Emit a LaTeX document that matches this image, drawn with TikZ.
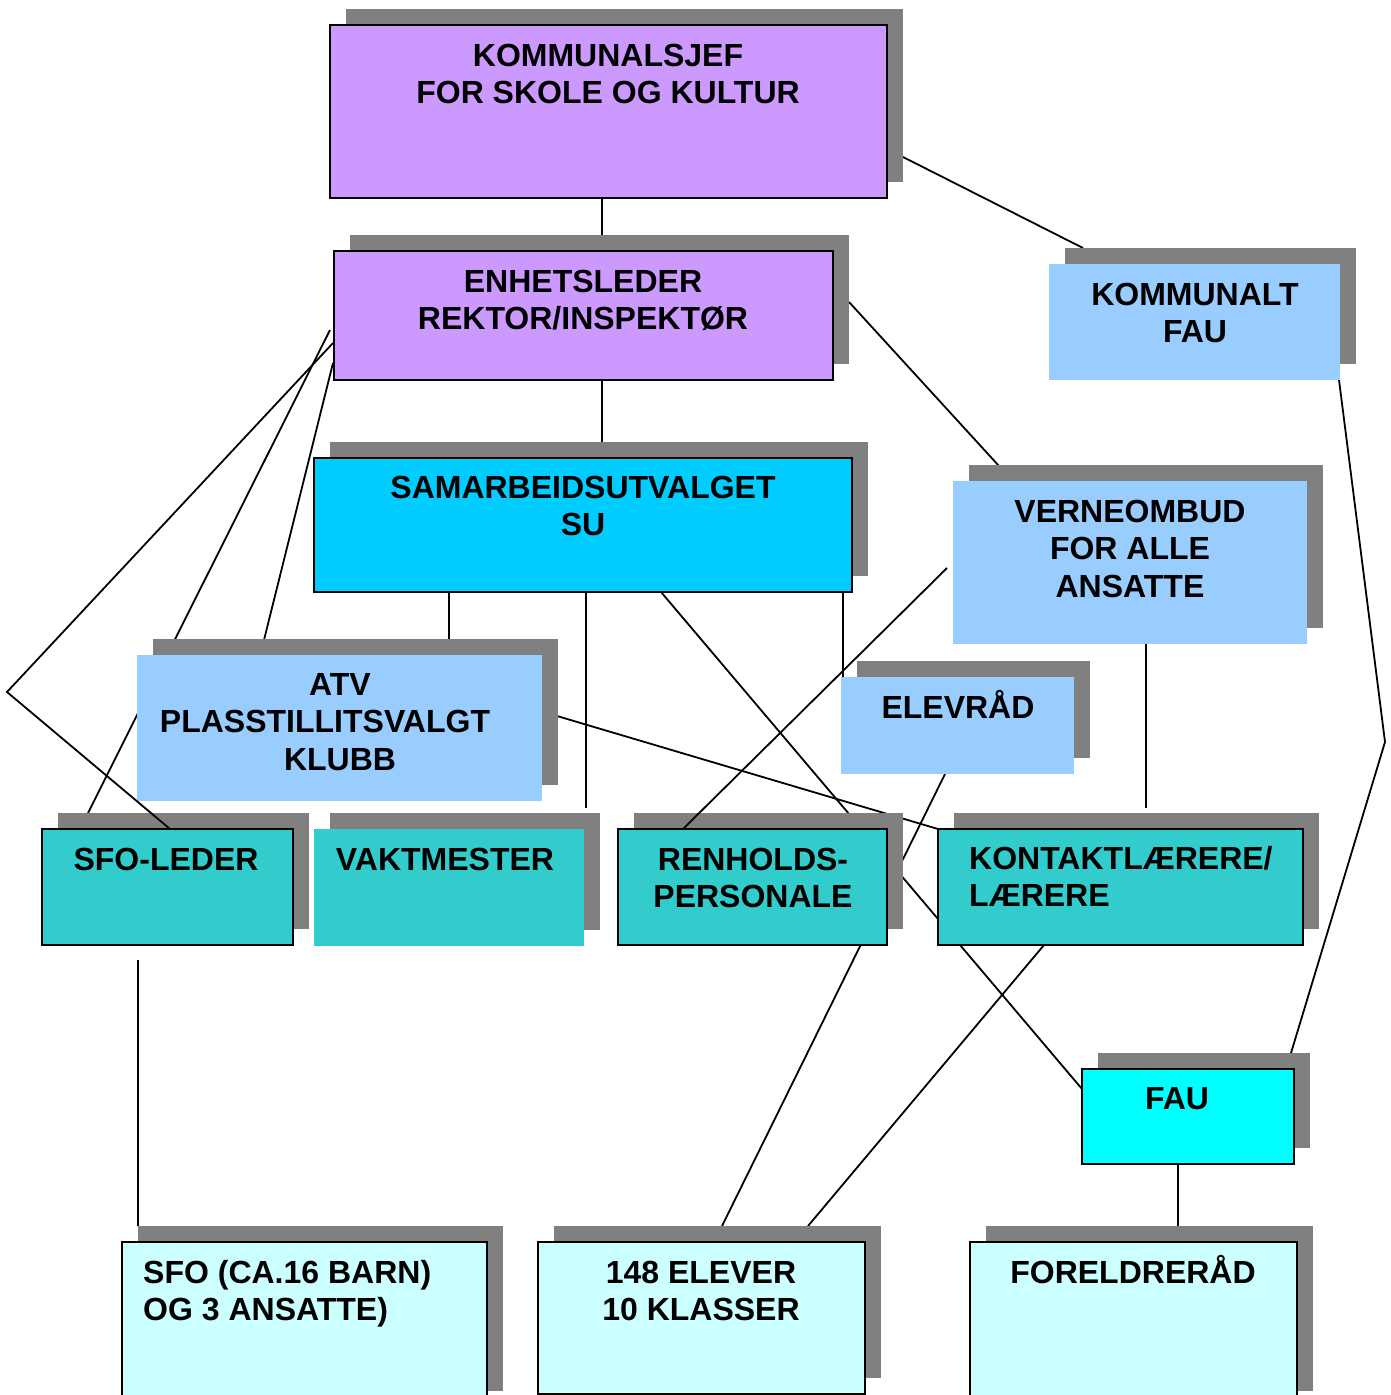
\documentclass[tikz,border=0pt]{standalone}
\usepackage{fontspec}
\setmainfont{Liberation Sans}
\usetikzlibrary{calc,shadows}
\pgfdeclarelayer{background}
\pgfsetlayers{background,main}
\definecolor{lilac}{HTML}{CC99FF}
\definecolor{sublue}{HTML}{00CCFF}
\definecolor{paleblue}{HTML}{99CCFF}
\definecolor{tealbox}{HTML}{33CCCC}
\definecolor{aqua}{HTML}{00FFFF}
\definecolor{icecyan}{HTML}{CCFFFF}
\definecolor{shadowgray}{HTML}{808080}
\newcommand{\boxtext}[2][c]{\begin{tabular}[t]{@{}#1@{}}#2\end{tabular}}
\begin{document}
\begin{tikzpicture}[x=1pt,y=-1pt,
  orgbox/.style={rectangle, anchor=north west, inner sep=0pt, outer sep=0pt,
    drop shadow={shadow xshift=16pt, shadow yshift=16pt, opacity=1, fill=shadowgray}},
  framed/.style={orgbox, draw=black, line width=1.8pt},
  plain/.style={orgbox, draw=none},
  boxlabel/.style={anchor=base, inner sep=0pt, font=\fontsize{32}{37.5}\selectfont\bfseries},
  conn/.style={draw=black, line width=1.8pt}
]
\useasboundingbox (0,0) rectangle (1390,1395);

% boxes
\node[framed, fill=lilac, minimum width=557pt, minimum height=173pt] (komsjef) at (330,25) {};
\node[framed, fill=lilac, minimum width=499pt, minimum height=129pt] (enhet) at (334,251) {};
\node[framed, fill=sublue, minimum width=538pt, minimum height=134pt] (su) at (314,458) {};
\node[plain, fill=paleblue, minimum width=291pt, minimum height=116pt] (kfau) at (1049,264) {};
\node[plain, fill=paleblue, minimum width=354pt, minimum height=163pt] (verne) at (953,481) {};
\node[plain, fill=paleblue, minimum width=405pt, minimum height=146pt] (atv) at (137,655) {};
\node[plain, fill=paleblue, minimum width=233pt, minimum height=97pt] (elev) at (841,677) {};
\node[framed, fill=tealbox, minimum width=251pt, minimum height=116pt] (sfol) at (42,829) {};
\node[plain, fill=tealbox, minimum width=270pt, minimum height=117pt] (vakt) at (314,829) {};
\node[framed, fill=tealbox, minimum width=269pt, minimum height=116pt] (renh) at (618,829) {};
\node[framed, fill=tealbox, minimum width=365pt, minimum height=116pt] (kont) at (938,829) {};
\node[framed, fill=aqua, minimum width=212pt, minimum height=95pt] (fau) at (1082,1069) {};
\node[framed, fill=icecyan, minimum width=365pt, minimum height=165pt] (sfo) at (122,1242) {};
\node[framed, fill=icecyan, minimum width=327pt, minimum height=152pt] (elever) at (538,1242) {};
\node[framed, fill=icecyan, minimum width=327pt, minimum height=165pt] (foreld) at (970,1242) {};

% texts
\node[boxlabel] (t-komsjef) at (608,66) {\boxtext{KOMMUNALSJEF\\FOR SKOLE OG KULTUR}};
\node[boxlabel] (t-enhet) at (583,292) {\boxtext{ENHETSLEDER\\REKTOR/INSPEKTØR}};
\node[boxlabel] (t-su) at (583,498) {\boxtext{SAMARBEIDSUTVALGET\\SU}};
\node[boxlabel] (t-kfau) at (1195,305) {\boxtext{KOMMUNALT\\FAU}};
\node[boxlabel] (t-verne) at (1130,522) {\boxtext{VERNEOMBUD\\FOR ALLE\\ANSATTE}};
\node[boxlabel] (t-atv) at (340,695) {\boxtext{ATV\\PLASSTILLITSVALGT\kern30pt\\KLUBB}};
\node[boxlabel] (t-elev) at (958,718) {ELEVRÅD};
\node[boxlabel] (t-sfol) at (166,870) {SFO-LEDER};
\node[boxlabel] (t-vakt) at (445,870) {VAKTMESTER};
\node[boxlabel] (t-renh) at (753,870) {\boxtext{RENHOLDS-\\PERSONALE}};
\node[boxlabel, anchor=base west] (t-kont) at (969,869) {\boxtext[l]{KONTAKTLÆRERE/\\LÆRERE}};
\node[boxlabel] (t-fau) at (1177,1109) {FAU};
\node[boxlabel, anchor=base west] (t-sfo) at (143,1283) {\boxtext[l]{SFO (CA.16 BARN)\\OG 3 ANSATTE)}};
\node[boxlabel] (t-elever) at (701,1283) {\boxtext{148 ELEVER\\10 KLASSER}};
\node[boxlabel] (t-foreld) at (1133,1283) {FORELDRERÅD};

\coordinate (bendL) at (7,692);
\coordinate (bendR) at (1385,742);

% connectors drawn over the shadows
\draw[conn] ($(enhet.north west)+(-1,92)$) -- (bendL) -- ($(sfol.north west)+(128,0)$);
\draw[conn] ($(verne.north west)+(-6,87)$) -- ($(renh.north west)+(65,0)$);

% connectors behind the boxes
\begin{pgfonlayer}{background}
\draw[conn] ($(komsjef.south west)+(272,0)$) -- ($(enhet.north west)+(268,0)$);
\draw[conn] ($(komsjef.north east)+(16,132)$) -- ($(kfau.north west)+(34,-16)$);
\draw[conn] ($(enhet.south west)+(268,0)$) -- ($(su.north west)+(288,0)$);
\draw[conn] ($(enhet.north east)+(16,51)$) -- ($(verne.north west)+(46,-15)$);
\draw[conn] ($(enhet.north west)+(-4,79)$) -- ($(sfol.north west)+(46,-16)$);
\draw[conn] ($(enhet.north west)+(-1,112)$) -- ($(atv.north west)+(127,-15)$);
\draw[conn] ($(su.south west)+(135,0)$) -- ($(atv.north west)+(312,-15)$);
\draw[conn] ($(su.south west)+(272,0)$) -- ($(vakt.north west)+(272,-21)$);
\draw[conn] ($(su.south west)+(347,0)$) -- ($(fau.north west)+(0,20)$);
\draw[conn] ($(su.south west)+(529,0)$) -- ($(elev.north west)+(2,0)$);
\draw[conn] ($(atv.north east)+(15,61)$) -- (kont.north west);
\draw[conn] ($(elev.south west)+(104,0)$) -- ($(elever.north west)+(184,-16)$);
\draw[conn] ($(verne.south west)+(193,0)$) -- ($(kont.north west)+(208,-21)$);
\draw[conn] ($(kont.south west)+(106,0)$) -- ($(elever.north west)+(270,-16)$);
\draw[conn] ($(kfau.south east)+(-2,-8)$) -- (bendR) -- ($(fau.north east)+(-3,-16)$);
\draw[conn] ($(fau.south west)+(96,0)$) -- ($(foreld.north west)+(208,-16)$);
\draw[conn] ($(sfol.south west)+(96,15)$) -- ($(sfo.north west)+(16,-16)$);
\end{pgfonlayer}
\end{tikzpicture}
\end{document}
